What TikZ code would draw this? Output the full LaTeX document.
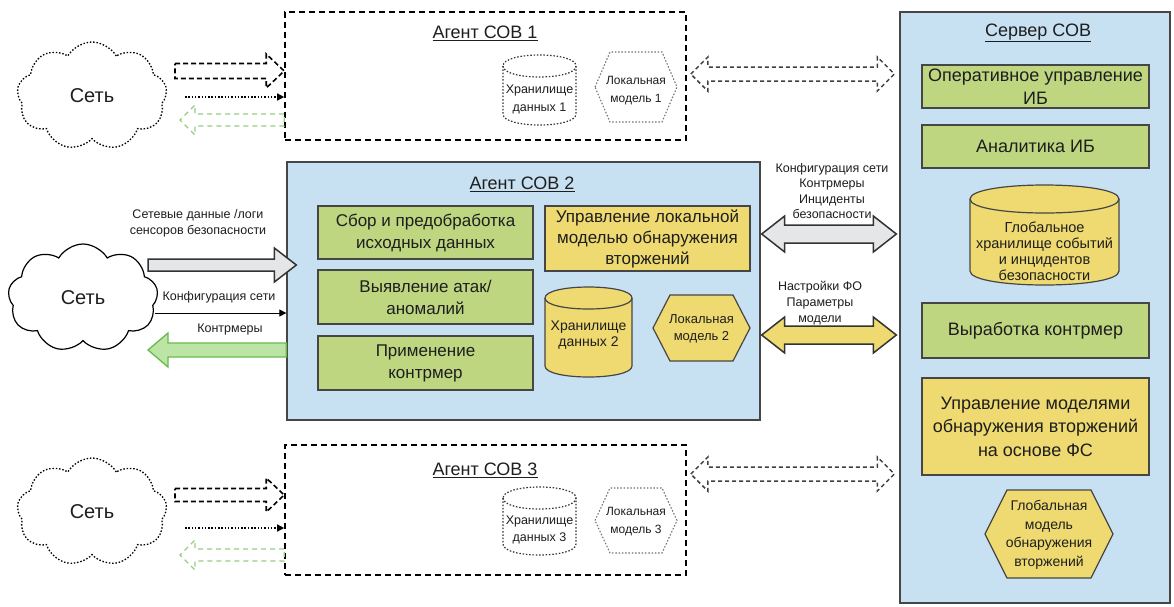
\documentclass[tikz,border=0pt]{standalone}
\usepackage{fontspec}
\setmainfont{Liberation Sans}
\usetikzlibrary{shapes.symbols,calc,arrows.meta}
\definecolor{boxgreen}{RGB}{190,214,128}
\definecolor{boxyellow}{RGB}{238,218,112}
\definecolor{panelblue}{RGB}{200,225,242}
\definecolor{arrgray}{RGB}{228,230,232}
\definecolor{arrgreenfill}{RGB}{188,228,165}
\definecolor{arrgreen}{RGB}{105,185,80}
\definecolor{dashgreen}{RGB}{150,205,130}
\definecolor{txt}{RGB}{30,30,30}
\definecolor{edge}{RGB}{70,70,70}
\newcommand\fsz[2]{\fontsize{#1}{#2}\selectfont}
% horizontal single block arrow: style, tail, tip, body half, head half, head length
\newcommand\harrow[6]{%
  \draw[#1] let \p1=(#2), \p2=(#3), \n1={sign(\x2-\x1)} in
  (\x1,{\y1+#4pt}) -- ({\x2-\n1*#6pt},{\y1+#4pt}) -- ({\x2-\n1*#6pt},{\y1+#5pt})
  -- (\x2,\y1) -- ({\x2-\n1*#6pt},{\y1-#5pt}) -- ({\x2-\n1*#6pt},{\y1-#4pt})
  -- (\x1,{\y1-#4pt}) -- cycle;}
% horizontal double block arrow: style, left end, right end, body half, head half, head length
\newcommand\hdarrow[6]{%
  \draw[#1] let \p1=(#2), \p2=(#3) in
  (\x1,\y1) -- ({\x1+#6pt},{\y1+#5pt}) -- ({\x1+#6pt},{\y1+#4pt})
  -- ({\x2-#6pt},{\y1+#4pt}) -- ({\x2-#6pt},{\y1+#5pt}) -- (\x2,\y1)
  -- ({\x2-#6pt},{\y1-#5pt}) -- ({\x2-#6pt},{\y1-#4pt})
  -- ({\x1+#6pt},{\y1-#4pt}) -- ({\x1+#6pt},{\y1-#5pt}) -- cycle;}
% cylinder: style, x1, y1, x2, y2, ry
\newcommand\dbcyl[6]{%
  \draw[#1] ({#2},{#3+#6}) -- ({#2},{#5-#6})
    .. controls ({#2},{#5+#6/3}) and ({#4},{#5+#6/3}) .. ({#4},{#5-#6})
    -- ({#4},{#3+#6})
    .. controls ({#4},{#3-#6/3}) and ({#2},{#3-#6/3}) .. ({#2},{#3+#6}) -- cycle;
  \draw[#1, fill=none] ({#2},{#3+#6})
    .. controls ({#2},{#3+7*#6/3}) and ({#4},{#3+7*#6/3}) .. ({#4},{#3+#6});}
% hexagon: style, x1, y1, x2, y2, d
\newcommand\hexa[6]{%
  \draw[#1] ({#2},{(#3+#5)/2}) -- ({#2+#6},{#3}) -- ({#4-#6},{#3})
    -- ({#4},{(#3+#5)/2}) -- ({#4-#6},{#5}) -- ({#2+#6},{#5}) -- cycle;}
\tikzset{
  panel/.style={draw=edge, line width=1.3pt, fill=panelblue},
  agentdash/.style={draw=black, line width=1.6pt, dash pattern=on 6pt off 4pt},
  gbox/.style={draw=edge, line width=1.2pt, fill=boxgreen, align=center, text=txt, inner sep=0pt},
  ybox/.style={gbox, fill=boxyellow},
  title/.style={font=\fsz{18}{21}, text=txt},
  lbl/.style={font=\fsz{12.5}{16}, text=txt, align=center},
  smalltxt/.style={text=txt, align=center, inner sep=0pt},
  cloudsty/.style={cloud, cloud puffs=9, cloud puff arc=120, aspect=1.4, draw=black,
     line width=1.2pt, fill=white, minimum width=150pt, minimum height=108pt, font=\fsz{20}{23}, text=txt},
  dotline/.style={line width=1.3pt, dash pattern=on 1.5pt off 1.8pt},
  dblock/.style={draw=black, line width=1.6pt, dash pattern=on 5pt off 3pt},
  gdash/.style={draw=dashgreen, line width=1.3pt, dash pattern=on 5pt off 4pt},
  ddash/.style={draw=black!75, line width=1.5pt, dash pattern=on 4pt off 3pt},
  gblock/.style={draw=black!80, line width=1.5pt, fill=arrgray},
  grblock/.style={draw=arrgreen, line width=1.3pt, fill=arrgreenfill},
  yblock/.style={draw=black!80, line width=1.5pt, fill=boxyellow},
  tarrow/.style={draw=black, line width=1pt, -{Triangle[length=7pt,width=7pt]}},
  darrow/.style={draw=black, line width=1.3pt, dash pattern=on 1.5pt off 1.8pt, -{Triangle[length=7pt,width=7pt]}},
  cylsolid/.style={draw=edge, line width=1.2pt, fill=boxyellow},
  cyldot/.style={draw=black!80, line width=1.2pt, dash pattern=on 1.5pt off 1.8pt, fill=white},
  hexdot/.style={draw=black!55, line width=1.1pt, dash pattern=on 1.5pt off 1.8pt, fill=white},
}
\begin{document}
\begin{tikzpicture}[x=1pt,y=-1pt]
\useasboundingbox[fill=white] (0,0) rectangle (1174,606);

% ---------- server ----------
\node[panel, minimum width=270pt, minimum height=591pt] (server) at (1035,307.5) {};
\node[title] (ts) at (1038,33) {\underline{Сервер СОВ}};
\node[gbox, font=\fsz{18}{23}, minimum width=227pt, minimum height=43pt] (ops) at (1035.5,86.5) {Оперативное управление\\ИБ};
\node[gbox, font=\fsz{18}{23}, minimum width=227pt, minimum height=43pt] (anal) at (1035.5,146.5) {Аналитика ИБ};
\dbcyl{cylsolid}{970}{185}{1119}{285}{14}
\node[smalltxt, font=\fsz{14.5}{16}] (gdb) at (1044.5,251) {Глобальное\\хранилище событий\\и инцидентов\\безопасности};
\node[gbox, font=\fsz{18}{23}, minimum width=227pt, minimum height=55pt] (cm) at (1035.5,330.5) {Выработка контрмер};
\node[ybox, font=\fsz{18}{23.5}, minimum width=227pt, minimum height=97pt] (mm) at (1035.5,426.5) {Управление моделями\\обнаружения вторжений\\на основе ФС};
\hexa{cylsolid}{985}{490}{1113}{578}{22}
\node[smalltxt, font=\fsz{14}{18.5}] (ghex) at (1049,535) {Глобальная\\модель\\обнаружения\\вторжений};

% ---------- agent 1 ----------
\node[agentdash, minimum width=401pt, minimum height=128pt] (agent1) at (485.5,76) {};
\node[title] (t1) at (485,33) {\underline{Агент СОВ 1}};
\dbcyl{cyldot}{503}{55}{576}{125}{11}
\node[smalltxt, font=\fsz{12.5}{18}] (db1) at (539.5,99) {Хранилище\\данных 1};
\hexa{hexdot}{595}{52}{677}{122}{15}
\node[smalltxt, font=\fsz{12}{18}] (lm1) at (636,91) {Локальная\\модель 1};

% ---------- agent 2 ----------
\node[panel, minimum width=473pt, minimum height=258pt] (agent2) at (523.5,291) {};
\node[title] (t2) at (522,184) {\underline{Агент СОВ 2}};
\node[gbox, font=\fsz{17}{22}, minimum width=215pt, minimum height=53pt] (collect) at (425.5,232.5) {Сбор и предобработка\\исходных данных};
\node[gbox, font=\fsz{17}{22}, minimum width=215pt, minimum height=54pt] (detect) at (425.5,297) {Выявление атак/\\аномалий};
\node[gbox, font=\fsz{17}{22}, minimum width=215pt, minimum height=54pt] (apply) at (425.5,363) {Применение\\контрмер};
\node[ybox, font=\fsz{17}{21}, minimum width=205pt, minimum height=65pt] (locm) at (647.5,238.5) {Управление локальной\\моделью обнаружения\\вторжений};
\dbcyl{cylsolid}{545}{287}{632}{377}{11}
\node[smalltxt, font=\fsz{14}{16}] (db2) at (588.5,335) {Хранилище\\данных 2};
\hexa{cylsolid}{653}{295}{750}{361}{17}
\node[smalltxt, font=\fsz{13}{17}] (lm2) at (701.5,329) {Локальная\\модель 2};

% ---------- agent 3 ----------
\node[agentdash, minimum width=401pt, minimum height=130pt] (agent3) at (485.5,510) {};
\node[title] (t3) at (485,470) {\underline{Агент СОВ 3}};
\dbcyl{cyldot}{503}{487}{576}{555}{11}
\node[smalltxt, font=\fsz{12.5}{17}] (db3) at (539.5,530) {Хранилище\\данных 3};
\hexa{hexdot}{595}{488}{677}{553}{15}
\node[smalltxt, font=\fsz{12}{18}] (lm3) at (636,522) {Локальная\\модель 3};

% ---------- networks ----------
\node[cloudsty, dotline] (net1) at (92,96) {Сеть};
\node[cloudsty] (net2) at (83,298) {Сеть};
\node[cloudsty, dotline] (net3) at (92,512) {Сеть};

% network 1 <-> agent 1
\coordinate (n1a) at (175,71);
\coordinate (n1ah) at (agent1.west |- n1a);
\harrow{dblock}{n1a}{n1ah}{7.5}{17}{18}
\coordinate (n1b) at (185,97);
\draw[darrow] (n1b) -- (agent1.west |- n1b);
\coordinate (n1ct) at (agent1.west |- 0,120);
\coordinate (n1ch) at (180,120);
\harrow{gdash}{n1ct}{n1ch}{6}{15}{15}

% network 2 <-> agent 2
\node[lbl] (l1) at (198,223) {Сетевые данные /логи\\сенсоров безопасности};
\coordinate (n2a) at (148,265);
\coordinate (n2ah) at ($(agent2.west |- n2a)+(10,0)$);
\harrow{gblock}{n2a}{n2ah}{6}{17}{22}
\node[lbl] (l2) at (219,297) {Конфигурация сети};
\coordinate (n2b) at (155,313);
\draw[tarrow] (n2b) -- (agent2.west |- n2b);
\node[lbl] (l3) at (230,329) {Контрмеры};
\coordinate (n2ct) at (agent2.west |- 0,350);
\coordinate (n2ch) at (148,350);
\harrow{grblock}{n2ct}{n2ch}{7}{17}{20}

% network 3 <-> agent 3
\coordinate (n3a) at (175,495);
\coordinate (n3ah) at (agent3.west |- n3a);
\harrow{dblock}{n3a}{n3ah}{6.5}{17}{18}
\coordinate (n3b) at (185,528);
\draw[darrow] (n3b) -- (agent3.west |- n3b);
\coordinate (n3ct) at (agent3.west |- 0,555);
\coordinate (n3ch) at (180,555);
\harrow{gdash}{n3ct}{n3ch}{6}{15}{15}

% agents <-> server
\coordinate (s1l) at ($(agent1.east |- 0,74)+(4,0)$);
\coordinate (s1r) at ($(server.west |- 0,74)+(-5,0)$);
\hdarrow{ddash}{s1l}{s1r}{7}{17}{17}
\node[lbl, font=\fsz{12.5}{15.6}] (l4) at (832,191) {Конфигурация сети\\Контрмеры\\Инциденты\\безопасности};
\coordinate (s2l) at ($(agent2.east |- 0,234)+(1,0)$);
\coordinate (s2r) at ($(server.west |- 0,234)+(-3,0)$);
\hdarrow{gblock}{s2l}{s2r}{9}{18}{23}
\node[lbl] (l5) at (820,303) {Настройки ФО\\Параметры\\модели};
\coordinate (s3l) at ($(agent2.east |- 0,335)+(1,0)$);
\coordinate (s3r) at ($(server.west |- 0,335)+(-3,0)$);
\hdarrow{yblock}{s3l}{s3r}{9}{18}{23}
\coordinate (s4l) at ($(agent3.east |- 0,474)+(4,0)$);
\coordinate (s4r) at ($(server.west |- 0,474)+(-5,0)$);
\hdarrow{ddash}{s4l}{s4r}{7}{17}{17}
\end{tikzpicture}
\end{document}
